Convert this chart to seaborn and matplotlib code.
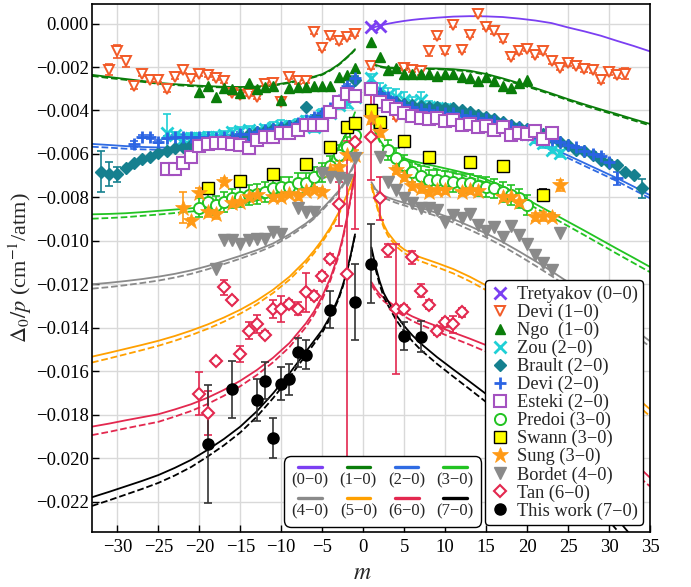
import numpy as np
import pandas as pd
import matplotlib
matplotlib.use("Agg")
import matplotlib.pyplot as plt
import seaborn as sns
from matplotlib.lines import Line2D
from matplotlib.font_manager import FontProperties
from matplotlib.offsetbox import AnchoredOffsetbox, DrawingArea, TextArea, VPacker, HPacker

SCALE = 1e-3  # values below are in units of 1e-3 cm^-1/atm

# ---------------- model curves ----------------
m_neg = [-33.1, -31, -29, -27, -25, -23, -21, -19, -17, -15, -13, -11, -9, -7, -6, -5, -4, -3,
         -2.5, -2, -1.5, -1]
m_pos = [1, 1.5, 2, 2.5, 3, 4, 5, 6, 7, 9, 11, 13, 15, 17, 19, 21, 23, 25, 27, 29, 31, 33, 35]

b00_pos_solid = [-0.22, -0.15, -0.10, -0.05, -0.01, 0.06, 0.12, 0.17, 0.21, 0.27, 0.32, 0.34,
                 0.33, 0.30, 0.23, 0.14, 0.02, -0.18, -0.36, -0.56, -0.80, -1.03, -1.28]

b10_neg_solid = [-2.36, -2.46, -2.55, -2.64, -2.73, -2.79, -2.84, -2.88, -2.91, -2.92, -2.90,
                 -2.83, -2.70, -2.53, -2.44, -2.33, -2.13, -1.88, -1.72, -1.55, -1.38, -1.18]
b10_neg_dash = [-2.41, -2.51, -2.59, -2.68, -2.77, -2.83, -2.88, -2.92, -2.94, -2.95, -2.93,
                -2.86, -2.73, -2.56, -2.47, -2.36, -2.16, -1.91, -1.75, -1.58, -1.41, -1.21]
b10_pos_solid = [-1.80, -1.90, -1.96, -2.00, -2.02, -2.04, -2.05, -2.05, -2.06, -2.07, -2.10,
                 -2.17, -2.32, -2.52, -2.74, -2.97, -3.22, -3.48, -3.72, -3.95, -4.17, -4.40,
                 -4.62]
b10_pos_dash = [-1.83, -1.93, -1.99, -2.03, -2.05, -2.07, -2.08, -2.08, -2.09, -2.10, -2.14,
                -2.21, -2.36, -2.57, -2.79, -3.02, -3.27, -3.53, -3.78, -4.01, -4.23, -4.46,
                -4.69]

b20_neg_solid = [-5.54, -5.59, -5.64, -5.68, -5.70, -5.71, -5.68, -5.62, -5.53, -5.42, -5.27,
                 -5.10, -4.88, -4.62, -4.46, -4.28, -4.06, -3.78, -3.60, -3.38, -3.12, -2.80]
b20_neg_dash = [-5.67, -5.71, -5.76, -5.79, -5.81, -5.81, -5.78, -5.71, -5.62, -5.50, -5.35,
                -5.17, -4.95, -4.69, -4.52, -4.34, -4.12, -3.84, -3.66, -3.44, -3.18, -2.86]
b20_pos_solid = [-2.80, -3.05, -3.22, -3.34, -3.43, -3.56, -3.66, -3.75, -3.83, -3.99, -4.16,
                 -4.35, -4.57, -4.82, -5.10, -5.40, -5.73, -6.07, -6.42, -6.77, -7.12, -7.50,
                 -7.90]
b20_pos_dash = [-2.85, -3.10, -3.27, -3.39, -3.49, -3.62, -3.72, -3.82, -3.90, -4.07, -4.24,
                -4.44, -4.66, -4.92, -5.20, -5.51, -5.85, -6.19, -6.55, -6.90, -7.26, -7.65,
                -8.04]

b30_neg_solid = [-8.78, -8.76, -8.73, -8.68, -8.62, -8.56, -8.50, -8.43, -8.33, -8.20, -8.03,
                 -7.82, -7.58, -7.27, -7.06, -6.78, -6.30, -5.68, -5.35, -4.98, -4.55, -4.08]
b30_neg_dash = [-8.98, -8.95, -8.91, -8.85, -8.79, -8.72, -8.65, -8.57, -8.46, -8.32, -8.14,
                -7.92, -7.67, -7.35, -7.13, -6.85, -6.37, -5.75, -5.42, -5.05, -4.62, -4.15]
b30_pos_solid = [-4.30, -4.95, -5.35, -5.62, -5.82, -6.05, -6.20, -6.32, -6.41, -6.58, -6.75,
                 -6.93, -7.17, -7.48, -7.88, -8.30, -8.71, -9.12, -9.53, -9.95, -10.37, -10.78,
                 -11.20]
b30_pos_dash = [-4.36, -5.02, -5.42, -5.70, -5.90, -6.14, -6.30, -6.42, -6.52, -6.70, -6.88,
                -7.07, -7.32, -7.64, -8.05, -8.48, -8.90, -9.32, -9.74, -10.17, -10.60, -11.02,
                -11.44]

b40_neg_solid = [-12.00, -11.93, -11.85, -11.76, -11.65, -11.52, -11.36, -11.16, -10.93, -10.69,
                 -10.43, -10.12, -9.70, -9.20, -8.90, -8.52, -8.12, -7.70, -7.42, -7.10, -6.75,
                 -6.35]
b40_neg_dash = [-12.20, -12.13, -12.04, -11.94, -11.83, -11.69, -11.52, -11.31, -11.07, -10.82,
                -10.55, -10.23, -9.80, -9.29, -8.98, -8.60, -8.19, -7.77, -7.49, -7.17, -6.82,
                -6.42]
b40_pos_solid = [-7.30, -7.62, -7.80, -7.92, -8.00, -8.14, -8.25, -8.36, -8.47, -8.72, -9.00,
                 -9.32, -9.66, -10.05, -10.48, -10.93, -11.40, -11.90, -12.42, -12.95, -13.50,
                 -14.05, -14.62]
b40_pos_dash = [-7.38, -7.70, -7.89, -8.01, -8.10, -8.25, -8.37, -8.49, -8.61, -8.87, -9.16,
                -9.49, -9.84, -10.24, -10.68, -11.14, -11.62, -12.13, -12.66, -13.20, -13.75,
                -14.31, -14.87]

b50_neg_solid = [-15.33, -15.15, -14.97, -14.79, -14.60, -14.38, -14.13, -13.85, -13.53, -13.17,
                 -12.75, -12.25, -11.65, -10.90, -10.45, -9.95, -9.38, -8.70, -8.32, -7.90,
                 -7.42, -6.90]
b50_neg_dash = [-15.60, -15.41, -15.22, -15.03, -14.83, -14.60, -14.34, -14.05, -13.72, -13.35,
                -12.92, -12.40, -11.79, -11.03, -10.57, -10.06, -9.48, -8.79, -8.40, -7.98,
                -7.50, -6.97]
b50_pos_solid = [-7.40, -8.10, -8.75, -9.25, -9.62, -10.10, -10.40, -10.60, -10.76, -11.02,
                 -11.30, -11.65, -12.05, -12.52, -13.03, -13.57, -14.13, -14.70, -15.28, -15.87,
                 -16.47, -17.10, -17.75]
b50_pos_dash = [-7.50, -8.21, -8.87, -9.38, -9.76, -10.25, -10.56, -10.77, -10.94, -11.21,
                -11.50, -11.86, -12.27, -12.75, -13.27, -13.82, -14.39, -14.97, -15.56, -16.16,
                -16.77, -17.41, -18.07]

b60_neg_solid = [-18.55, -18.41, -18.26, -18.12, -17.98, -17.76, -17.52, -17.22, -16.86, -16.44,
                 -15.95, -15.38, -14.70, -13.80, -13.25, -12.55, -11.70, -10.60, -9.85, -8.95,
                 -7.95, -6.85]
b60_neg_dash = [-18.94, -18.79, -18.63, -18.48, -18.33, -18.09, -17.83, -17.51, -17.13, -16.69,
                -16.18, -15.59, -14.89, -13.97, -13.40, -12.69, -11.82, -10.71, -9.95, -9.04,
                -8.03, -6.92]
b60_pos_solid = [-11.90, -12.20, -12.45, -12.62, -12.76, -13.05, -13.28, -13.48, -13.64, -13.93,
                 -14.22, -14.50, -14.80, -15.20, -15.68, -16.22, -16.82, -17.45, -18.10, -18.78,
                 -19.48, -20.18, -20.90]
b60_pos_dash = [-12.02, -12.33, -12.59, -12.77, -12.92, -13.23, -13.47, -13.69, -13.86, -14.17,
                -14.48, -14.78, -15.10, -15.52, -16.02, -16.58, -17.20, -17.85, -18.52, -19.22,
                -19.94, -20.66, -21.30]

b70_neg_solid = [-21.80, -21.55, -21.30, -21.05, -20.78, -20.45, -20.08, -19.62, -19.12, -18.55,
                 -17.85, -17.02, -16.10, -15.10, -14.60, -14.10, -13.45, -12.60, -12.05, -11.40,
                 -10.60, -9.70]
b70_neg_dash = [-22.20, -21.94, -21.68, -21.42, -21.14, -20.80, -20.41, -19.93, -19.41, -18.82,
                -18.10, -17.24, -16.29, -15.26, -14.74, -14.22, -13.55, -12.68, -12.12, -11.46,
                -10.65, -9.75]
b70_pos_solid = [-10.30, -11.15, -11.85, -12.40, -12.75, -13.40, -13.92, -14.35, -14.72, -15.35,
                 -15.92, -16.48, -17.05, -17.65, -18.28, -18.95, -19.65, -20.38, -21.15, -21.95,
                 -22.80, -23.70, -24.60]
b70_pos_dash = [-10.42, -11.29, -12.01, -12.58, -12.95, -13.63, -14.17, -14.62, -15.01, -15.66,
                -16.25, -16.83, -17.42, -18.04, -18.69, -19.38, -20.10, -20.85, -21.64, -22.46,
                -23.33, -24.24, -25.05]

band_labels = ["(0\u22120)", "(1\u22120)", "(2\u22120)", "(3\u22120)",
               "(4\u22120)", "(5\u22120)", "(6\u22120)", "(7\u22120)"]
band_colors = ["#7b3ff2", "#0a7d0a", "#2f6be3", "#22c322",
               "#8a8a8a", "#ffa000", "#e3284f", "#000000"]

tre_m = [1, 2]
tre_y = [-0.15, -0.10]

devi1_m = [-31, -30, -29, -28, -27, -26, -25, -24, -23, -22, -21, -20, -19, -18, -17, -16,
           -15, -14, -13, -12, -11, -10, -9, -8, -7, -6, -5, -4, -3, -2, -1,
           1, 4, 5, 6, 7, 8, 9, 10, 11, 12, 13, 14, 15, 16, 17, 18, 19, 20, 21, 22, 23,
           24, 25, 26, 27, 28, 29, 30, 31, 32]
devi1_y = [-2.12, -1.28, -1.74, -2.86, -2.31, -2.59, -2.59, -3.02, -2.46, -2.16, -2.54, -2.31,
           -2.36, -2.51, -2.63, -3.20, -3.28, -3.23, -3.39, -2.77, -2.74, -3.63, -2.46, -2.66,
           -2.63, -0.38, -1.12, -0.59, -0.82, -0.62, -0.46,
           -1.97, -4.28, -2.05, -2.12, -2.20, -1.28, -0.55, -1.28, -0.05, -1.20, -0.51, 0.46,
           -0.15, -0.36, -0.71, -1.54, -1.28, -1.17, -1.43, -1.28, -1.74, -2.05, -1.82, -1.94,
           -2.09, -2.16, -2.62, -2.25, -2.36, -2.31]
devi1_e = [0.25, 0.30, 0.25, 0.15, 0.10, 0.10, 0.10, 0.12, 0.10, 0.10, 0.10, 0.10,
           0.10, 0.10, 0.10, 0.10, 0.10, 0.10, 0.10, 0.10, 0.10, 0.10, 0.10, 0.10,
           0.10, 0.12, 0.12, 0.10, 0.10, 0.10, 0.10,
           0.10, 0.10, 0.10, 0.10, 0.15, 0.20, 0.15, 0.10, 0.12, 0.10, 0.10, 0.10,
           0.10, 0.10, 0.12, 0.10, 0.10, 0.10, 0.10, 0.10, 0.10, 0.10, 0.12, 0.12,
           0.12, 0.12, 0.10, 0.12, 0.15, 0.25]

ngo_m = [-20, -19, -18, -17, -16, -15, -14, -13, -12, -11, -10, -9, -8, -7, -6, -5, -4, -3, -2, -1,
         1, 2, 3, 4, 5, 6, 7, 8, 9, 10, 11, 12, 13, 14, 15, 16, 17, 18, 19, 20]
ngo_y = [-3.13, -2.86, -3.36, -2.97, -3.02, -3.20, -2.74, -3.02, -2.92, -2.86, -3.51, -2.97,
         -2.92, -2.92, -2.86, -2.86, -2.86, -2.46, -2.36, -2.05,
         -0.86, -1.54, -2.12, -2.05, -2.31, -2.31, -2.31, -2.31, -2.40, -2.31, -2.31, -2.46,
         -2.51, -2.66, -2.46, -2.66, -2.86, -2.97, -2.74, -2.62]

zou_m = [-24, -23, -22, -21, -20, -19, -18, -17, -16, -15, -14, -13, -12, -11, -10, -9, -8, -7,
         -6, -5, -4, -3, -2, -1, 1, 2, 3, 4, 5, 6, 7, 8, 9, 10, 11, 12, 13, 14, 15, 16, 17, 18,
         19, 20, 21, 22, 23, 24]
zou_y = [-5.05, -5.15, -5.30, -5.25, -5.25, -5.20, -5.20, -5.15, -5.00, -4.95, -4.90, -5.00,
         -4.85, -4.80, -4.70, -4.75, -4.65, -4.50, -4.74, -4.20, -4.13, -3.74, -3.67, -3.40,
         -2.51, -3.05, -3.28, -3.36, -3.51, -3.67, -3.51, -3.85, -3.90, -3.95, -4.20, -4.25,
         -4.30, -4.40, -4.50, -4.60, -4.75, -4.85, -5.00, -5.10, -5.30, -5.51, -5.82, -5.97]
zou_e = [0.90, 0.15, 0.20, 0.20, 0.20, 0.20, 0.20, 0.20, 0.20, 0.20, 0.20, 0.20,
         0.20, 0.25, 0.25, 0.25, 0.25, 0.25, 0.25, 0.25, 0.20, 0.20, 0.20, 0.20,
         0.20, 0.30, 0.30, 0.35, 0.35, 0.30, 0.35, 0.30, 0.25, 0.25, 0.25, 0.25,
         0.25, 0.25, 0.25, 0.25, 0.25, 0.25, 0.25, 0.25, 0.20, 0.20, 0.15, 0.15]

bra_m = [-32, -31, -30, -29, -28, -27, -26, -25, -24, -23, -22, -21, -20, -19, -18, -17, -16,
         -15, -14, -13, -12, -11, -10, -9, -8, -7, -6, -5, -4, -3, -2, -1,
         1, 2, 3, 4, 5, 6, 7, 8, 9, 10, 11, 12, 13, 14, 15, 16, 17, 18, 19, 20, 21, 22, 23,
         24, 25, 26, 27, 28, 29, 30, 31, 32, 33, 34]
bra_y = [-6.82, -6.93, -6.93, -6.67, -6.44, -6.25, -6.13, -5.97, -5.85, -5.74, -5.67, -5.60,
         -5.60, -5.50, -5.40, -5.35, -5.30, -5.20, -5.10, -5.00, -4.95, -4.85, -4.80, -4.70,
         -4.60, -3.85, -4.40, -4.20, -4.05, -3.60, -3.05, -2.60,
         -3.00, -3.30, -3.50, -3.60, -3.70, -3.75, -3.80, -3.82, -3.85, -3.88, -3.90, -3.97,
         -4.05, -4.20, -4.28, -4.40, -4.55, -4.65, -4.74, -4.85, -5.00, -5.10, -5.25, -5.44,
         -5.60, -5.82, -5.85, -6.05, -6.28, -6.44, -6.51, -6.82, -6.97, -7.59]
bra_e = [0.95, 0.55, 0.35] + [0.0] * 62 + [0.45]

devi2_m = [-28, -27, -26, -25, -24, -23, -22, -21, -20, -19, -18, -17, -16, -15, -14, -13, -12,
           -11, -10, -9, -8, -7, -6, -5, -4, -3, -2, -1,
           1, 2, 3, 4, 5, 6, 7, 8, 9, 10, 11, 12, 13, 14, 15, 16, 17, 18, 19, 20, 21, 22, 23,
           24, 25, 26, 27, 28, 29, 30, 31]
devi2_y = [-5.54, -5.20, -5.23, -5.44, -5.25, -5.23, -5.23, -5.23, -5.23, -5.20, -5.25, -5.23,
           -5.23, -5.08, -5.10, -5.00, -4.90, -4.85, -4.77, -4.70, -4.59, -4.45, -4.31, -4.10,
           -3.90, -3.51, -2.86, -2.51,
           -2.90, -3.20, -3.40, -3.60, -3.75, -3.85, -3.95, -4.00, -4.05, -4.10, -4.10, -4.20,
           -4.25, -4.35, -4.40, -4.50, -4.60, -4.70, -4.80, -4.90, -5.05, -5.28, -5.36, -5.45,
           -5.60, -5.70, -5.85, -6.00, -6.10, -6.36, -7.13]
devi2_e = [0.15] + [0.08] * 57 + [0.30]

est_m = [-24, -23, -22, -21, -20, -19, -18, -17, -16, -15, -14, -13, -12, -11, -10, -9, -8, -7,
         -6, -5, -4, -3, -2, -1, 1, 2, 3, 4, 5, 6, 7, 8, 9, 10, 11, 12, 13, 14, 15, 16, 17, 18,
         19, 20, 21, 22, 23]
est_y = [-6.71, -6.71, -6.44, -6.13, -5.64, -5.54, -5.51, -5.51, -5.54, -5.59, -5.74, -5.36,
         -5.20, -5.22, -5.05, -5.05, -4.90, -4.67, -4.67, -4.67, -4.05, -3.60, -3.23, -3.33,
         -3.02, -3.59, -3.79, -3.95, -4.10, -4.25, -4.36, -4.41, -4.33, -4.49, -4.45, -4.67,
         -4.62, -4.74, -4.72, -4.88, -4.74, -5.13, -5.05, -5.08, -4.93, -5.33, -5.05]

pre_m = [-20, -19, -18, -17, -16, -15, -14, -13, -12, -11, -10, -9, -8, -7, -6, -5, -4, -3, -2, -1,
         3, 4, 5, 6, 7, 8, 9, 10, 11, 12, 13, 14, 15, 16, 17, 18, 19, 20]
pre_y = [-8.47, -8.21, -8.37, -8.21, -8.05, -7.98, -7.90, -7.85, -7.74, -7.59, -7.51, -7.51,
         -7.33, -7.33, -7.05, -6.85, -6.54, -6.05, -5.67, -5.13,
         -5.82, -6.20, -6.51, -6.82, -7.02, -7.20, -7.20, -7.23, -7.28, -7.36, -7.36, -7.48,
         -7.51, -7.59, -7.74, -7.90, -8.05, -8.36]
pre_e = [0.45] * 38

swa_m = [-19, -15, -11, -7, -4, -2, -1, 1, 2, 5, 8, 13, 17, 22]
swa_y = [-7.59, -7.25, -6.93, -6.47, -5.67, -4.74, -4.59, -4.00, -4.51, -5.40, -6.13, -6.39,
         -6.56, -7.87]
swa_e = [0.25, 0.20, 0.15, 0.10, 0.12, 0.20, 0.20, 0.25, 0.20, 0.0, 0.0, 0.0, 0.25, 0.25]

sung_m = [-22, -21, -20, -19, -18, -17, -16, -15, -14, -13, -11, -10, -9, -8, -7, -6, -5, -4, -3,
          -2, -1, 1, 2, 4, 5, 6, 7, 8, 9, 10, 12, 13, 14, 17, 18, 19, 21, 22, 23, 24]
sung_y = [-8.47, -9.08, -7.79, -8.67, -8.75, -7.28, -8.28, -8.20, -7.98, -7.90, -8.00, -8.00,
          -7.85, -7.95, -7.70, -7.67, -7.75, -6.74, -6.59, -6.05, -6.05, -4.36, -4.97,
          -6.74, -7.05, -7.48, -7.59, -7.74, -7.64, -7.64, -7.74, -7.64, -7.70, -7.97, -7.97,
          -8.20, -8.90, -8.87, -8.90, -7.44]
sung_e = [0.70, 0.15, 0.20, 0.25, 0.25, 0.15, 0.15, 0.15, 0.15, 0.15, 0.15, 0.15,
          0.15, 0.15, 0.15, 0.15, 0.15, 0.20, 0.25, 0.25, 0.25, 0.25, 0.25,
          0.20, 0.20, 0.20, 0.20, 0.20, 0.20, 0.20, 0.20, 0.20, 0.20, 0.20, 0.20,
          0.20, 0.20, 0.20, 0.20, 0.25]

bor_m = [-18, -17, -16, -15, -14, -13, -12, -11, -10, -8, -7, -6, -5, -4, -3, -2, -1,
         2, 3, 4, 5, 6, 7, 8, 9, 10, 11, 12, 13, 14, 15, 16, 17, 18, 19, 20, 21, 22, 23, 24]
bor_y = [-11.28, -9.98, -9.98, -10.13, -9.98, -9.90, -9.90, -9.59, -9.70, -8.51, -8.67, -8.67,
         -6.90, -7.05, -7.13, -7.20, -6.20,
         -6.16, -7.28, -7.64, -8.05, -8.24, -8.51, -8.47, -8.59, -9.13, -8.83, -8.95, -8.75,
         -9.28, -9.54, -9.36, -9.82, -9.34, -9.75, -10.16, -10.67, -11.02, -11.36, -9.64]

tan_m = [-20, -19, -18, -17, -16, -15, -14, -13, -12, -11, -10, -9, -8, -7, -6, -5, -4, -3, -2, -1,
         1, 2, 3, 4, 5, 6, 7, 8, 9, 10, 11, 12]
tan_y = [-17.03, -17.92, -15.52, -12.13, -12.72, -15.21, -14.13, -13.83, -14.32, -13.13,
         -13.13, -12.90, -13.13, -12.36, -12.52, -11.64, -10.82, -8.30, -11.52, -5.44,
         -5.20, -8.05, -10.44, -13.13, -13.13, -10.75, -12.29, -12.93, -14.13, -13.75,
         -13.85, -13.29]
tan_elo = [1.00, 1.00, 0.15, 0.35, 0.15, 0.35, 0.40, 0.40, 0.15, 0.40, 0.60, 0.20, 0.30,
           0.90, 0.20, 0.20, 0.20, 1.00, 9.20, 4.00,
           2.00, 1.00, 0.30, 3.00, 0.20, 0.30, 0.30, 0.20, 0.20, 0.20, 0.40, 0.20]
tan_ehi = [1.00, 1.00, 0.15, 0.35, 0.15, 0.35, 0.40, 0.40, 0.15, 0.40, 0.60, 0.20, 0.30,
           0.90, 0.20, 0.20, 0.20, 1.00, 6.10, 0.50,
           2.00, 1.00, 0.30, 3.00, 0.20, 0.30, 0.30, 0.20, 0.20, 0.20, 0.40, 0.20]

tw_m = [-19, -16, -13, -12, -11, -10, -9, -8, -7, -4, -1, 1, 5, 7]
tw_y = [-19.34, -16.83, -17.34, -16.44, -19.06, -16.57, -16.37, -15.13, -15.24, -13.18,
        -12.83, -11.05, -14.37, -14.41]
tw_e = [2.71, 1.31, 0.96, 0.85, 0.92, 0.77, 0.72, 0.66, 0.67, 0.85, 1.75, 1.83, 0.65, 0.70]

# ---------------- styling ----------------
SERIF = ["Liberation Serif", "DejaVu Serif"]
sns.set_theme(style="whitegrid")
plt.rcParams["font.family"] = "serif"
plt.rcParams["font.serif"] = SERIF
plt.rcParams["mathtext.fontset"] = "stix"
plt.rcParams["axes.unicode_minus"] = True

fig = plt.figure(figsize=(6.91, 5.87), dpi=100)
ax = fig.add_axes([92 / 691, 55 / 587, 558 / 691, 528 / 587])
ax.set_facecolor("white")

curve_sets = [
    (band_colors[0], [(m_pos, b00_pos_solid, "-")]),
    (band_colors[1], [(m_neg, b10_neg_solid, "-"), (m_neg, b10_neg_dash, "--"),
                      (m_pos, b10_pos_solid, "-"), (m_pos, b10_pos_dash, "--")]),
    (band_colors[2], [(m_neg, b20_neg_solid, "-"), (m_neg, b20_neg_dash, "--"),
                      (m_pos, b20_pos_solid, "-"), (m_pos, b20_pos_dash, "--")]),
    (band_colors[3], [(m_neg, b30_neg_solid, "-"), (m_neg, b30_neg_dash, "--"),
                      (m_pos, b30_pos_solid, "-"), (m_pos, b30_pos_dash, "--")]),
    (band_colors[4], [(m_neg, b40_neg_solid, "-"), (m_neg, b40_neg_dash, "--"),
                      (m_pos, b40_pos_solid, "-"), (m_pos, b40_pos_dash, "--")]),
    (band_colors[5], [(m_neg, b50_neg_solid, "-"), (m_neg, b50_neg_dash, "--"),
                      (m_pos, b50_pos_solid, "-"), (m_pos, b50_pos_dash, "--")]),
    (band_colors[6], [(m_neg, b60_neg_solid, "-"), (m_neg, b60_neg_dash, "--"),
                      (m_pos, b60_pos_solid, "-"), (m_pos, b60_pos_dash, "--")]),
    (band_colors[7], [(m_neg, b70_neg_solid, "-"), (m_neg, b70_neg_dash, "--"),
                      (m_pos, b70_pos_solid, "-"), (m_pos, b70_pos_dash, "--")]),
]
for col, parts in curve_sets:
    for mm, yy, ls in parts:
        df = pd.DataFrame({"m": mm, "y": np.array(yy) * SCALE})
        sns.lineplot(data=df, x="m", y="y", ax=ax, color=col, linestyle=ls,
                     linewidth=1.3, sort=False, estimator=None, zorder=2)

datasets = [
    ("Tretyakov (0\u22120)", tre_m, tre_y, None,
     dict(marker="x", color="#7b3ff2", ms=8, mew=2.0, mfc="#7b3ff2")),
    ("Devi (1\u22120)", devi1_m, devi1_y, devi1_e,
     dict(marker="v", color="#f25a28", ms=7.5, mew=1.4, mfc="white")),
    ("Ngo  (1\u22120)", ngo_m, ngo_y, None,
     dict(marker="^", color="#0a7d0a", ms=7.5, mew=1.0, mfc="#0a7d0a")),
    ("Zou (2\u22120)", zou_m, zou_y, zou_e,
     dict(marker="x", color="#1fd0d6", ms=8, mew=2.0, mfc="#1fd0d6")),
    ("Brault (2\u22120)", bra_m, bra_y, bra_e,
     dict(marker="D", color="#15808f", ms=6, mew=1.0, mfc="#15808f")),
    ("Devi (2\u22120)", devi2_m, devi2_y, devi2_e,
     dict(marker="+", color="#2b64e3", ms=9, mew=2.0, mfc="#2b64e3")),
    ("Esteki (2\u22120)", est_m, est_y, None,
     dict(marker="s", color="#a452c0", ms=8, mew=1.5, mfc="white")),
    ("Predoi (3\u22120)", pre_m, pre_y, pre_e,
     dict(marker="o", color="#22c322", ms=8, mew=1.4, mfc="white")),
    ("Swann (3\u22120)", swa_m, swa_y, swa_e,
     dict(marker="s", color="black", ms=9, mew=1.0, mfc="#ffff00")),
    ("Sung (3\u22120)", sung_m, sung_y, sung_e,
     dict(marker="*", color="#ff9a16", ms=12, mew=0.5, mfc="#ff9a16")),
    ("Bordet (4\u22120)", bor_m, bor_y, None,
     dict(marker="v", color="#8a8a8a", ms=8, mew=1.0, mfc="#8a8a8a")),
    ("Tan (6\u22120)", tan_m, tan_y, (tan_elo, tan_ehi),
     dict(marker="D", color="#e3284f", ms=6.5, mew=1.5, mfc="white")),
    ("This work (7\u22120)", tw_m, tw_y, tw_e,
     dict(marker="o", color="black", ms=8, mew=1.0, mfc="black")),
]

handles = []
for i, (lab, mm, yy, ee, st) in enumerate(datasets):
    y = np.array(yy) * SCALE
    ecol = "#333333" if lab.startswith("This") else st["color"]
    if ee is not None:
        ax.errorbar(mm, y, yerr=np.array(ee) * SCALE, fmt="none", ecolor=ecol,
                    elinewidth=1.2, capsize=3, capthick=1.2, zorder=3 + i * 0.01)
    ax.plot(mm, y, linestyle="none", marker=st["marker"], markersize=st["ms"],
            markeredgewidth=st["mew"], markeredgecolor=st["color"],
            markerfacecolor=st["mfc"], zorder=4 + i * 0.01)
    handles.append(Line2D([], [], linestyle="none", marker=st["marker"],
                          markersize=st["ms"], markeredgewidth=st["mew"],
                          markeredgecolor=st["color"], markerfacecolor=st["mfc"],
                          label=lab))

# axes
xt = list(range(-30, 36, 5))
yt = [-0.022, -0.020, -0.018, -0.016, -0.014, -0.012, -0.010, -0.008, -0.006, -0.004,
      -0.002, 0.0]
ax.set_xlim(-33.1, 35)
ax.set_ylim(-0.0234, 0.0009)
tick_fp = FontProperties(family="Liberation Serif", size=13.5)
ax.set_xticks(xt)
ax.set_xticklabels([("%d" % v).replace("-", "\u2212") for v in xt], fontproperties=tick_fp)
ax.set_yticks(yt)
ax.set_yticklabels([("%.3f" % v).replace("-", "\u2212") if v != 0 else "0.000" for v in yt],
                   fontproperties=tick_fp)
ax.grid(True, color="#d9d9d9", linewidth=1.0)
ax.tick_params(direction="in", length=5, width=1.0, colors="black",
               left=True, bottom=True)
ax.tick_params(axis="y", pad=2.5)
ax.tick_params(axis="x", pad=5)
for s in ax.spines.values():
    s.set_color("black")
    s.set_linewidth(1.2)
ax.set_xlabel(r"$m$", fontsize=17)
ax.set_ylabel(r"$\Delta_0/p$ (cm$^{-1}$/atm)", fontsize=16)
ax.xaxis.set_label_coords(0.484, -0.058)
ax.yaxis.set_label_coords(-0.104, 0.5)

# right legend (data sets)
leg = ax.legend(handles=handles, loc="lower right", bbox_to_anchor=(0.9875, 0.013),
                bbox_transform=ax.transAxes, borderaxespad=0.0,
                prop=FontProperties(family="Liberation Serif", size=13.2),
                labelspacing=0.04, handlelength=1.0, handletextpad=0.4,
                borderpad=0.3, frameon=True, fancybox=True, framealpha=1.0)
leg.get_frame().set_edgecolor("black")
leg.get_frame().set_linewidth(1.0)
leg.set_zorder(10)

# lower legend (bands): short line above each label
entries = []
for lab, col in zip(band_labels, band_colors):
    da = DrawingArea(17, 4, 0, 0)
    da.add_artist(Line2D([0, 17], [2, 2], color=col, linewidth=2.4))
    ta = TextArea(lab, textprops=dict(fontproperties=FontProperties(
        family="Liberation Serif", size=12)))
    entries.append(VPacker(children=[da, ta], align="center", pad=0, sep=2))
row1 = HPacker(children=entries[:4], align="top", pad=0, sep=8)
row2 = HPacker(children=entries[4:], align="top", pad=0, sep=8)
box = VPacker(children=[row1, row2], align="left", pad=0, sep=5)
anch = AnchoredOffsetbox(loc="lower left", child=box, pad=0.45, borderpad=0.0,
                         bbox_to_anchor=(0.344, 0.0095), bbox_transform=ax.transAxes,
                         frameon=True, prop=dict(size=12))
anch.patch.set_boxstyle("round,pad=0,rounding_size=0.4")
anch.patch.set_edgecolor("black")
anch.patch.set_linewidth(1.0)
anch.patch.set_facecolor("white")
anch.set_zorder(10)
ax.add_artist(anch)

fig.savefig("out.png", dpi=100)
